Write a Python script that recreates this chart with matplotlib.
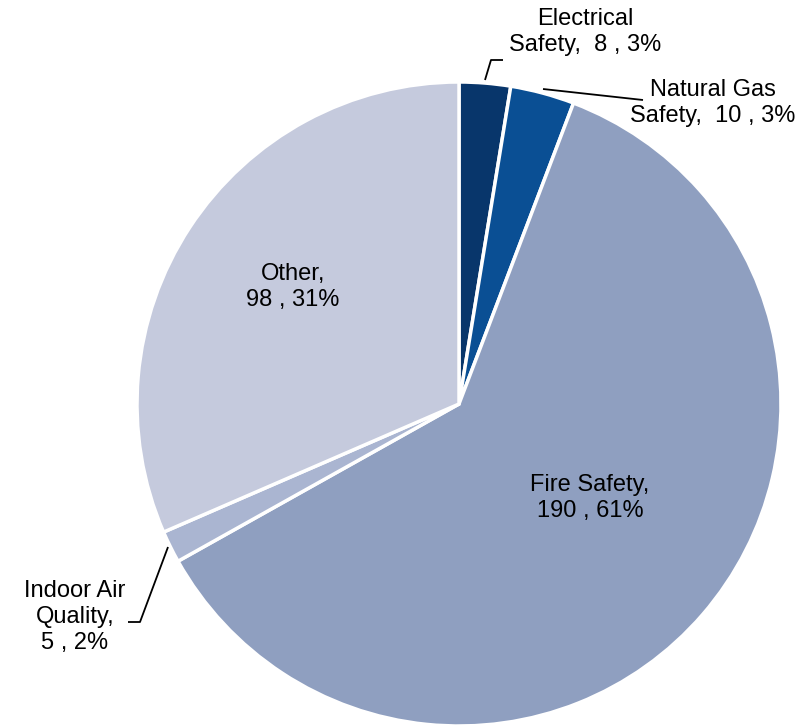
import matplotlib.pyplot as plt

plt.rcParams['font.family'] = ['Liberation Sans', 'DejaVu Sans']

# category counts, clockwise from 12 o'clock
categories = ['Electrical\nSafety,', 'Natural Gas\nSafety,', 'Fire Safety,',
              'Indoor Air\nQuality,', 'Other,']
counts = [8, 10, 190, 5, 98]
percents = [3, 3, 61, 2, 31]
colors = ['#08366b', '#0a4f94', '#8f9fc0', '#aab5d1', '#c5cadd']

# figure pixel geometry
W, H = 810, 726
CX, CY, R = 459, 404, 322


def px(x, y):
    """pixel position (origin top-left) -> pie data coordinates"""
    return (x - CX) / R, (CY - y) / R


# label anchor points, separators and leader lines, in pixels
label_pos = [(585, 32), (713, 103), (590, 498), (75, 617), (293, 287)]
label_sep = ['  ', '  ', '\n', '\n', '\n']
leaders = [
    [(485, 80), (491, 60), (503, 60)],
    [(543, 89), (643, 100)],
    None,
    [(168, 547), (140, 622), (128, 622)],
    None,
]

fig = plt.figure(figsize=(W / 100, H / 100), dpi=100)
ax = fig.add_axes([0, 0, 1, 1])

ax.pie(counts, colors=colors, startangle=90, counterclock=False, radius=1,
       wedgeprops=dict(edgecolor='white', linewidth=2.5))

for cat, sep, n, p, pos, lead in zip(categories, label_sep, counts, percents,
                                     label_pos, leaders):
    x, y = px(*pos)
    ax.text(x, y, f'{cat}{sep}{n} , {p}%', ha='center', va='center',
            fontsize=17, color='black', linespacing=1.25)
    if lead:
        xs, ys = zip(*[px(*p) for p in lead])
        ax.plot(xs, ys, color='black', linewidth=1.3, solid_capstyle='butt')

ax.set_aspect('auto')
ax.set_xlim(-CX / R, (W - CX) / R)
ax.set_ylim(-(H - CY) / R, CY / R)
ax.axis('off')

fig.savefig('out.png', dpi=100)
